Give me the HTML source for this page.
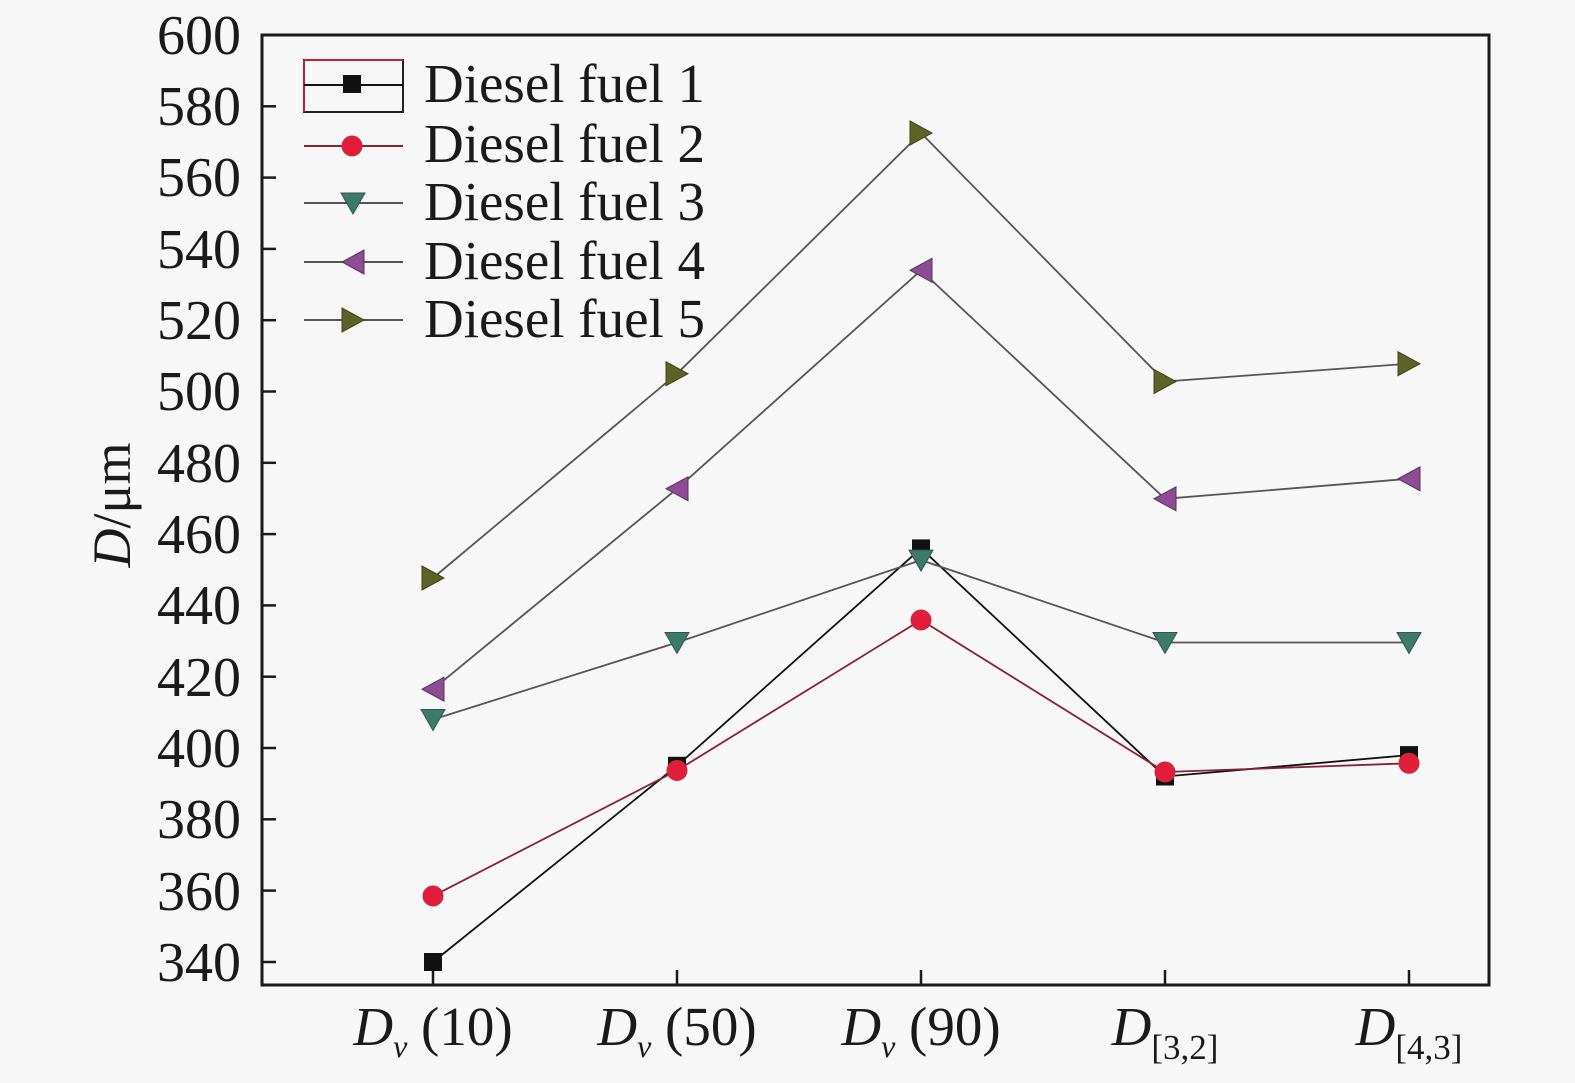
<!DOCTYPE html>
<html><head><meta charset="utf-8"><style>
html,body{margin:0;padding:0;background:#f7f7f7;}
svg{display:block;font-family:"Liberation Serif",serif;}
</style></head><body>
<svg width="1575" height="1083" viewBox="0 0 1575 1083" xmlns="http://www.w3.org/2000/svg">
<rect width="1575" height="1083" fill="#f7f7f7"/>
<defs>
<rect id="sq" x="-9" y="-9" width="18" height="18" fill="#111"/>
<circle id="ci" r="10" fill="#e21c3a" stroke="#c0303a" stroke-width="1"/>
<polygon id="dn" points="-12,-10 12,-10 0,11" fill="#3e7a6a" stroke="#2a5a4e" stroke-width="1"/>
<polygon id="lf" points="11,-12 11,12 -11,0" fill="#8e4c94" stroke="#5a3060" stroke-width="1"/>
<polygon id="rt" points="-11,-12 -11,12 11,0" fill="#5d6326" stroke="#40441a" stroke-width="1"/>
</defs>
<rect x="262" y="35" width="1227" height="950" fill="none" stroke="#1a1a1a" stroke-width="3"/>
<g stroke="#1a1a1a" stroke-width="2.5">
<line x1="262" y1="106.3" x2="276" y2="106.3"/><line x1="262" y1="177.6" x2="276" y2="177.6"/>
<line x1="262" y1="248.9" x2="276" y2="248.9"/><line x1="262" y1="320.2" x2="276" y2="320.2"/>
<line x1="262" y1="391.5" x2="276" y2="391.5"/><line x1="262" y1="462.8" x2="276" y2="462.8"/>
<line x1="262" y1="534.1" x2="276" y2="534.1"/><line x1="262" y1="605.4" x2="276" y2="605.4"/>
<line x1="262" y1="676.7" x2="276" y2="676.7"/><line x1="262" y1="748" x2="276" y2="748"/>
<line x1="262" y1="819.3" x2="276" y2="819.3"/><line x1="262" y1="890.6" x2="276" y2="890.6"/>
<line x1="262" y1="962" x2="276" y2="962"/>
<line x1="433" y1="985" x2="433" y2="970"/><line x1="677" y1="985" x2="677" y2="970"/>
<line x1="921" y1="985" x2="921" y2="970"/><line x1="1165" y1="985" x2="1165" y2="970"/>
<line x1="1409" y1="985" x2="1409" y2="970"/>
</g>
<g font-size="56" text-anchor="end" fill="#1a1a1a">
<text x="241" y="54">600</text><text x="241" y="125">580</text><text x="241" y="196">560</text>
<text x="241" y="268">540</text><text x="241" y="339">520</text><text x="241" y="410">500</text>
<text x="241" y="482">480</text><text x="241" y="553">460</text><text x="241" y="624">440</text>
<text x="241" y="696">420</text><text x="241" y="767">400</text><text x="241" y="838">380</text>
<text x="241" y="910">360</text><text x="241" y="981">340</text>
</g>
<text transform="translate(130,505) rotate(-90)" font-size="54" text-anchor="middle" fill="#1a1a1a"><tspan font-style="italic">D</tspan>/μm</text>
<g font-size="55" fill="#1a1a1a" text-anchor="middle">
<text x="433" y="1045"><tspan font-style="italic">D</tspan><tspan font-style="italic" font-size="32" dy="12">v</tspan><tspan dy="-12"> (10)</tspan></text>
<text x="677" y="1045"><tspan font-style="italic">D</tspan><tspan font-style="italic" font-size="32" dy="12">v</tspan><tspan dy="-12"> (50)</tspan></text>
<text x="921" y="1045"><tspan font-style="italic">D</tspan><tspan font-style="italic" font-size="32" dy="12">v</tspan><tspan dy="-12"> (90)</tspan></text>
<text x="1165" y="1045"><tspan font-style="italic">D</tspan><tspan font-size="35" dy="14">[3,2]</tspan></text>
<text x="1409" y="1045"><tspan font-style="italic">D</tspan><tspan font-size="35" dy="14">[4,3]</tspan></text>
</g>
<g fill="none" stroke-width="1.8">
<polyline stroke="#111" points="433,962 677,765.8 921,548.4 1165,776.5 1409,755.1"/>
<polyline stroke="#8a2030" points="433,896 677,770.5 921,620 1165,772 1409,763.3"/>
<polyline stroke="#555" points="433,719.5 677,642.5 921,560.1 1165,642.5 1409,642.5"/>
<polyline stroke="#555" points="433,689.2 677,488.8 921,270.3 1165,498.8 1409,478.8"/>
<polyline stroke="#555" points="433,578 677,373.7 921,133 1165,381.5 1409,363.7"/>
</g>
<use href="#sq" x="433" y="962"/><use href="#sq" x="677" y="765.8"/><use href="#sq" x="921" y="548.4"/><use href="#sq" x="1165" y="776.5"/><use href="#sq" x="1409" y="755.1"/>
<use href="#ci" x="433" y="896"/><use href="#ci" x="677" y="770.5"/><use href="#ci" x="921" y="620"/><use href="#ci" x="1165" y="772"/><use href="#ci" x="1409" y="763.3"/>
<use href="#dn" x="433" y="719.5"/><use href="#dn" x="677" y="642.5"/><use href="#dn" x="921" y="560.1"/><use href="#dn" x="1165" y="642.5"/><use href="#dn" x="1409" y="642.5"/>
<use href="#lf" x="433" y="689.2"/><use href="#lf" x="677" y="488.8"/><use href="#lf" x="921" y="270.3"/><use href="#lf" x="1165" y="498.8"/><use href="#lf" x="1409" y="478.8"/>
<use href="#rt" x="433" y="578"/><use href="#rt" x="677" y="373.7"/><use href="#rt" x="921" y="133"/><use href="#rt" x="1165" y="381.5"/><use href="#rt" x="1409" y="363.7"/>
<rect x="304" y="60" width="99" height="52" fill="none" stroke="#222" stroke-width="2"/>
<line x1="304" y1="60" x2="403" y2="60" stroke="#c02040" stroke-width="2"/>
<line x1="304" y1="60" x2="304" y2="112" stroke="#c02040" stroke-width="2"/>
<g stroke-width="2">
<line x1="304" y1="85" x2="403" y2="85" stroke="#111"/>
<line x1="304" y1="146" x2="403" y2="146" stroke="#8a2030"/>
<line x1="304" y1="203" x2="403" y2="203" stroke="#555"/>
<line x1="304" y1="262" x2="403" y2="262" stroke="#555"/>
<line x1="304" y1="320" x2="403" y2="320" stroke="#555"/>
</g>
<use href="#sq" x="352" y="84"/><use href="#ci" x="352" y="146"/><use href="#dn" x="353" y="203"/><use href="#lf" x="353" y="262"/><use href="#rt" x="353" y="320"/>
<g font-size="55" fill="#1a1a1a">
<text x="424" y="102">Diesel fuel 1</text>
<text x="424" y="162">Diesel fuel 2</text>
<text x="424" y="220">Diesel fuel 3</text>
<text x="424" y="279">Diesel fuel 4</text>
<text x="424" y="337">Diesel fuel 5</text>
</g>
</svg>
</body></html>
